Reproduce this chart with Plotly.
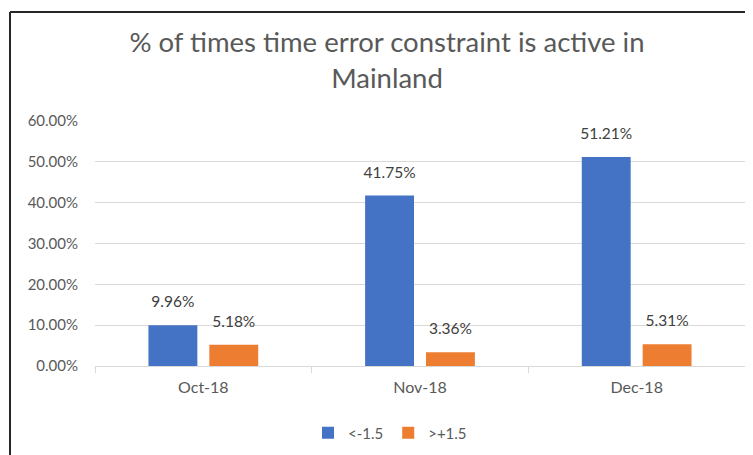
import plotly.graph_objects as go

categories = ["Oct-18", "Nov-18", "Dec-18"]
below = [0.0996, 0.4175, 0.5121]
above = [0.0518, 0.0336, 0.0531]
series_names = ["<-1.5", ">+1.5"]
title_text = "% of times time error constraint is active in<br>Mainland"

FONT = "Lato"
GRAY = "#595959"

fig = go.Figure()
for name, vals, col in [(series_names[0], below, "#4472C4"), (series_names[1], above, "#ED7D31")]:
    fig.add_trace(go.Bar(
        x=categories, y=vals, name=name,
        marker=dict(color=col, line=dict(width=0)),
        texttemplate="<span style='font-size:15.5px'>%{y:.2%}</span><br> ",
        textposition="outside", constraintext="none",
        textfont=dict(family=FONT, size=10, color="#404040"),
        cliponaxis=False,
    ))

# page body has an 8px offset in the viewport
W, H = 753, 455
L, R, T, B = 87, 16, 113, 97
pw, ph = W - L - R, H - T - B

fig.update_layout(
    width=W, height=H,
    margin=dict(l=L, r=R, t=T, b=B),
    paper_bgcolor="white", plot_bgcolor="white",
    barmode="group", bargap=0.438, bargroupgap=0.197,
    font=dict(family=FONT, color=GRAY, size=15),
    title=dict(text=title_text, x=379 / W, xanchor="center", xref="container",
               y=1 - 44 / H, yanchor="top", yref="container",
               font=dict(family=FONT, size=27.5, color=GRAY)),
    legend=dict(orientation="h", x=(382 - L) / pw, xanchor="center",
                y=(H - B - 425) / ph, yanchor="middle",
                font=dict(family=FONT, size=15, color=GRAY), itemwidth=30),
    xaxis=dict(showline=True, linecolor="#d9d9d9", linewidth=1,
               ticks="outside", tickson="boundaries", ticklen=6, tickcolor="#d9d9d9",
               tickfont=dict(family=FONT, size=16, color=GRAY), ticklabelstandoff=7,
               showgrid=False, automargin=False),
    yaxis=dict(range=[0, 0.6], dtick=0.1, tickformat=".2%",
               showgrid=True, gridcolor="#d9d9d9", gridwidth=1,
               zeroline=False, ticks="", ticklabelstandoff=16, automargin=False,
               tickfont=dict(family=FONT, size=15, color=GRAY)),
    showlegend=True,
)

# chart border (top and left edges visible)
fig.add_shape(type="line", xref="paper", yref="paper",
              x0=(2 - L) / pw, x1=(W - L) / pw, y0=1 + (T - 4) / ph, y1=1 + (T - 4) / ph,
              line=dict(color="#262626", width=2))
fig.add_shape(type="line", xref="paper", yref="paper",
              x0=(2 - L) / pw, x1=(2 - L) / pw, y0=1 + (T - 4) / ph, y1=-B / ph,
              line=dict(color="#262626", width=2))

fig.write_html("out.html")
